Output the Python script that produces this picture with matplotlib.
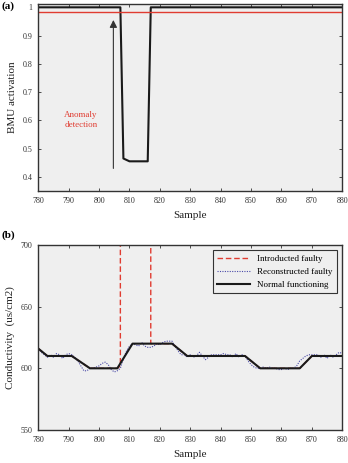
import matplotlib.pyplot as plt
import numpy as np

plt.rcParams['font.family'] = ['Liberation Serif', 'DejaVu Serif']

# panel (a): BMU activation
bmu_x = [780, 807, 808, 809, 810, 816, 817, 880]
bmu_y = [1.0, 1.0, 0.465, 0.46, 0.455, 0.455, 1.0, 1.0]
threshold = 0.985

# panel (b): conductivity
normal_x = [780, 783, 791, 797, 806, 811, 824, 829, 848, 853, 866, 870, 880]
normal_y = [616, 610, 610, 600, 600, 620, 620, 610, 610, 600, 600, 610, 610]

faulty_x = [780, 783, 791, 797, 806, 807, 807, 817, 817, 824, 829, 848, 853, 866, 870, 880]
faulty_y = [616, 610, 610, 600, 600, 602, 760, 760, 620, 620, 610, 610, 600, 600, 610, 610]

recon_x = np.arange(780, 881)
recon_y = [616, 613, 611, 609, 611, 609, 612, 611, 608, 611, 612, 611,
           609, 606, 602, 598, 598, 600, 600, 601, 602, 604, 605, 603,
           599, 597, 598, 600, 608, 614, 618, 620, 619, 618, 621, 618,
           617, 617, 618, 620, 619, 621, 622, 622, 622, 618, 614, 611,
           611, 609, 611, 609, 610, 613, 610, 607, 609, 611, 611, 611,
           611, 612, 611, 611, 609, 612, 609, 611, 610, 606, 603, 601,
           600, 600, 601, 600, 601, 600, 600, 599, 599, 600, 599, 600,
           600, 602, 606, 608, 610, 611, 611, 611, 611, 609, 611, 608,
           611, 609, 611, 613, 612]

xticks = np.arange(780, 881, 10)
bg = '#efefef'
spine = '#333333'

fig = plt.figure(figsize=(3.48, 4.63), dpi=100)
ax1 = fig.add_axes([0.110, 0.5875, 0.8736, 0.404])
ax2 = fig.add_axes([0.110, 0.0713, 0.8736, 0.3996])

for ax in (ax1, ax2):
    ax.set_facecolor(bg)
    ax.set_xlim(780, 880)
    ax.set_xticks(xticks)
    ax.tick_params(direction='in', top=True, right=True, length=2.5,
                   width=0.6, labelsize=5.8, pad=4, colors=spine)
    for s in ax.spines.values():
        s.set_color(spine)
        s.set_linewidth(1.0)
    ax.set_xlabel('Sample', fontsize=8, labelpad=5, color='#222222')

# (a)
ax1.plot(bmu_x, bmu_y, color='#1a1a1a', lw=1.5)
ax1.axhline(threshold, color='#e03c31', lw=1.0)
ax1.set_ylim(0.35, 1.012)
ax1.set_yticks([0.4, 0.5, 0.6, 0.7, 0.8, 0.9, 1.0])
ax1.set_yticklabels(['0.4', '0.5', '0.6', '0.7', '0.8', '0.9', '1'])
ax1.set_ylabel('BMU activation', fontsize=8, labelpad=4, color='#222222')
ax1.annotate('', xy=(804.7, 0.965), xytext=(804.7, 0.42),
             arrowprops=dict(arrowstyle='-|>', color='#333333', lw=0.8,
                             mutation_scale=11))
ax1.text(794, 0.6, 'Anomaly\ndetection', color='#e03c31', fontsize=6.5,
         ha='center', va='center', linespacing=1.3)
fig.text(0.003, 0.998, '(a)', fontsize=8, fontweight='bold', va='top')

# (b)
ax2.plot(faulty_x, faulty_y, color='#e03c31', lw=1.0, ls=(0, (4, 2)),
         label='Introducted faulty')
ax2.plot(recon_x, recon_y, color='#4a4aa8', lw=0.8, ls=(0, (1, 1.2)),
         label='Reconstructed faulty')
ax2.plot(normal_x, normal_y, color='#1a1a1a', lw=1.5,
         label='Normal functioning')
ax2.set_ylim(550, 700)
ax2.set_yticks([550, 600, 650, 700])
ax2.set_ylabel('Conductivity  (us/cm2)', fontsize=8, labelpad=4, color='#222222')
leg = ax2.legend(loc='upper right', fontsize=6.5, fancybox=False,
                 framealpha=1, facecolor=bg, edgecolor=spine,
                 borderaxespad=0.6, handlelength=3.6, labelspacing=0.5,
                 borderpad=0.5)
leg.get_frame().set_linewidth(0.8)
fig.text(0.003, 0.503, '(b)', fontsize=8, fontweight='bold', va='top')

plt.savefig('out.png', dpi=100)
